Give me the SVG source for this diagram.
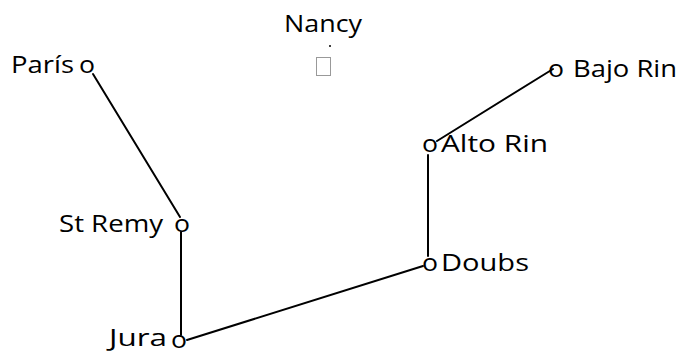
<svg xmlns="http://www.w3.org/2000/svg" width="680" height="351" viewBox="0 0 680 351">
<style>
.lbl{font-family:"Open Sans","Liberation Sans",sans-serif;font-size:24px;fill:#000;}
.edge{stroke:#000;stroke-width:2;fill:none;stroke-linecap:round;}
</style>
<rect width="680" height="351" fill="#fff"/>
<g id="connectors">
<line class="edge" x1="93" y1="74" x2="180" y2="217"/>
<line class="edge" x1="181" y1="232" x2="181" y2="335"/>
<line class="edge" x1="187" y1="340" x2="423" y2="266"/>
<line class="edge" x1="428" y1="155" x2="428" y2="256"/>
<line class="edge" x1="437" y1="141" x2="553" y2="69"/>
</g>
<g id="nancy">
<text class="lbl" x="284" y="32" textLength="78" lengthAdjust="spacingAndGlyphs">Nancy</text>
<circle cx="330" cy="46" r="1" fill="#000"/>
<rect x="316.5" y="57.5" width="14" height="18" fill="none" stroke="#999" stroke-width="1"/>
</g>
<g id="paris">
<text class="lbl" x="11" y="73" textLength="63" lengthAdjust="spacingAndGlyphs">París</text>
<text class="lbl" x="79" y="73" textLength="16" lengthAdjust="spacingAndGlyphs">o</text>
</g>
<g id="bajo-rin">
<text class="lbl" x="548" y="77" textLength="16" lengthAdjust="spacingAndGlyphs">o</text>
<text class="lbl" x="573" y="77" textLength="104" lengthAdjust="spacingAndGlyphs">Bajo Rin</text>
</g>
<g id="alto-rin">
<text class="lbl" x="422" y="152" textLength="16" lengthAdjust="spacingAndGlyphs">o</text>
<text class="lbl" x="441" y="152" textLength="107" lengthAdjust="spacingAndGlyphs">Alto Rin</text>
</g>
<g id="st-remy">
<text class="lbl" x="59" y="232" textLength="104" lengthAdjust="spacingAndGlyphs">St Remy</text>
<text class="lbl" x="174" y="232" textLength="16" lengthAdjust="spacingAndGlyphs">o</text>
</g>
<g id="doubs">
<text class="lbl" x="422" y="271" textLength="16" lengthAdjust="spacingAndGlyphs">o</text>
<text class="lbl" x="441" y="271" textLength="88" lengthAdjust="spacingAndGlyphs">Doubs</text>
</g>
<g id="jura">
<text class="lbl" x="109" y="346" textLength="58" lengthAdjust="spacingAndGlyphs">Jura</text>
<text class="lbl" x="171" y="348" textLength="16" lengthAdjust="spacingAndGlyphs">o</text>
</g>
</svg>
